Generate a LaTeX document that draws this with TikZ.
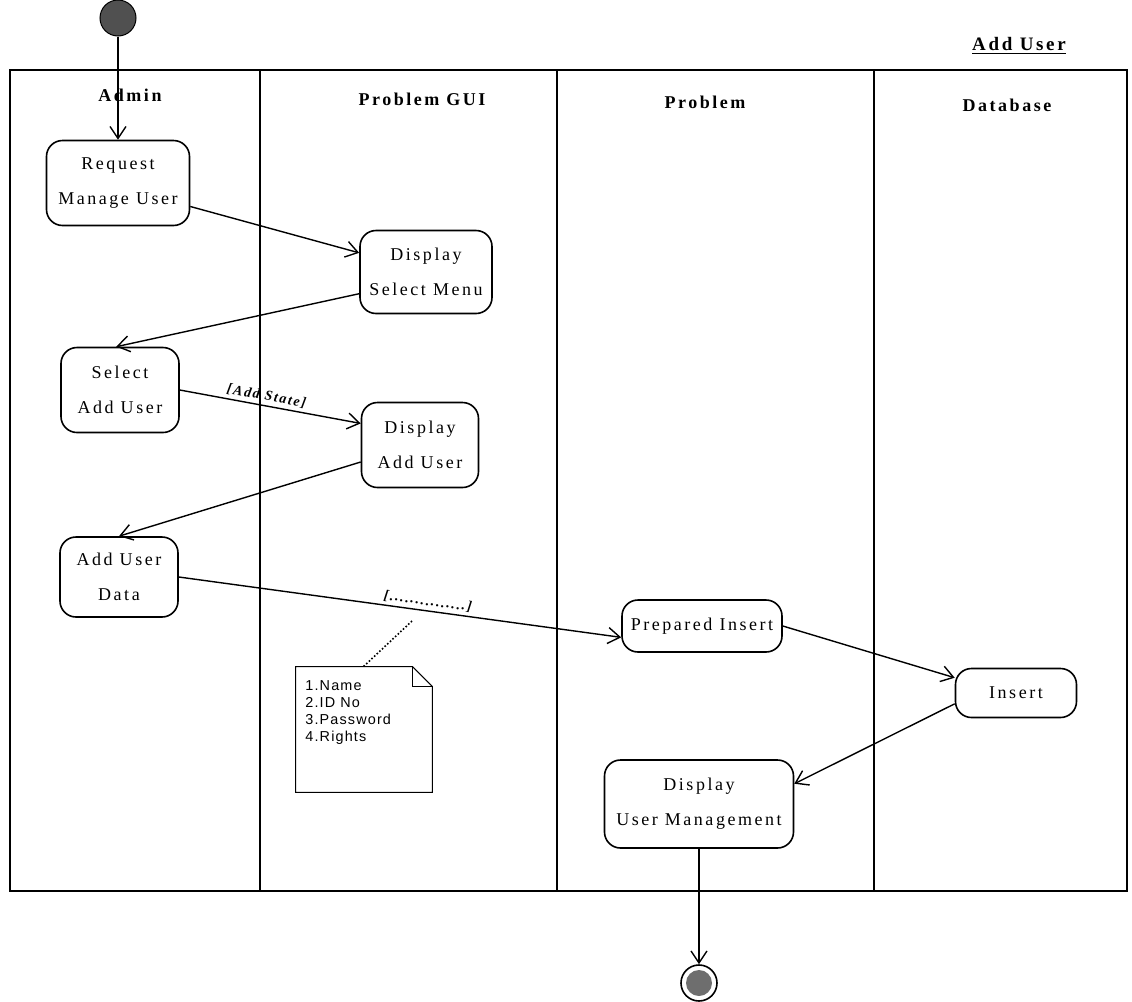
\documentclass[tikz,border=0pt]{standalone}
\usepackage{fontspec}
\usetikzlibrary{arrows.meta}
\setmainfont{Liberation Serif}
\newfontfamily\actfont[LetterSpace=14]{Liberation Serif}
\newfontfamily\lanefont[LetterSpace=14]{Liberation Serif}
\newfontfamily\guardfont[LetterSpace=12]{Liberation Serif}
\newfontfamily\notefont[LetterSpace=8]{Liberation Sans}

\begin{document}
\begin{tikzpicture}[x=0.5pt,y=-0.5pt,
  act/.style={draw, line width=0.8pt, rounded corners=8pt, align=center,
    inner sep=0pt, font=\actfont\fontsize{9}{17.5}\selectfont},
  flow/.style={line width=0.7pt, -{Straight Barb[length=6pt,width=8pt,line width=0.7pt]}},
  lane/.style={font=\lanefont\bfseries\fontsize{9}{11}\selectfont},
  guard/.style={font=\guardfont\bfseries\itshape\fontsize{7}{8}\selectfont, inner sep=1.5pt},
  frame/.style={line width=0.8pt},
  notebox/.style={line width=0.5pt}
]
\useasboundingbox (0,0) rectangle (1132,1002);

% swimlane frame and separators
\draw[frame] (10,70) rectangle (1127,891);
\draw[frame] (260,70) -- (260,891);
\draw[frame] (557,70) -- (557,891);
\draw[frame] (874,70) -- (874,891);

% diagram title
\node[lane, font=\lanefont\bfseries\fontsize{9.5}{11}\selectfont] (title) at (1019,46) {\underline{Add User}};

% lane headers
\node[lane] (hAdmin) at (130,95) {Admin};
\node[lane] (hGui) at (422,99) {Problem GUI};
\node[lane] (hProb) at (705,102) {Problem};
\node[lane] (hDb) at (1007,105) {Database};

% initial and final states
\node[circle, draw, line width=0.5pt, fill={rgb,255:red,80;green,80;blue,80},
  minimum size=18pt, inner sep=0pt] (start) at (118,18) {};
\node[circle, draw, line width=0.8pt, minimum size=18pt, inner sep=0pt] (finish) at (699,983) {};
\node[circle, fill={rgb,255:red,110;green,110;blue,110}, minimum size=13pt, inner sep=0pt] (finishdot) at (finish) {};

% activities
\node[act, minimum width=71.5pt, minimum height=42.5pt] (req) at (118,183) {Request\\Manage User};
\node[act, minimum width=66pt, minimum height=41.5pt] (dsm) at (426,272) {Display\\Select Menu};
\node[act, minimum width=59pt, minimum height=42.5pt] (sel) at (120,390) {Select\\Add User};
\node[act, minimum width=58.5pt, minimum height=42.5pt] (dau) at (420,445) {Display\\Add User};
\node[act, minimum width=59pt, minimum height=40pt] (aud) at (119,577) {Add User\\Data};
\node[act, minimum width=80pt, minimum height=26pt] (pins) at (702,626) {Prepared Insert};
\node[act, minimum width=60.5pt, minimum height=24.5pt] (ins) at (1016,693) {Insert};
\node[act, minimum width=94.5pt, minimum height=44pt] (dum) at (699,804) {Display\\User Management};

% control flow
\draw[flow] (start) -- (req.north);
\draw[flow] (req.-18) -- (dsm.164);
\draw[flow] (dsm.198) -- (sel.95);
\draw[flow] (sel.east) -- node[guard, pos=0.47, sloped, above] (g1) {[Add State]} (dau.160);
\draw[flow] (dau.196) -- (aud.north);
\draw[flow] (aud.east) -- node[guard, pos=0.56, sloped, above] (g2) {[...............]} (pins.188);
\draw[flow] (pins.east) -- (ins.166);
\draw[flow] (ins.190) -- (dum.12);
\draw[flow] (dum.south) -- (finish.north);

% note with folded corner, attached to the data flow
\node[minimum width=68pt, minimum height=62.5pt, inner sep=0pt] (note) at (364,729.5) {};
\draw[notebox] (note.north west) -- ([xshift=-10pt]note.north east)
  -- ([yshift=-10pt]note.north east) -- (note.south east) -- (note.south west) -- cycle;
\draw[notebox] ([xshift=-10pt]note.north east) -- ([xshift=-10pt,yshift=-10pt]note.north east)
  -- ([yshift=-10pt]note.north east);
\node[anchor=north west, align=left, inner sep=0pt,
  font=\notefont\fontsize{7.2}{8.5}\selectfont] (notetext) at (305,680)
  {1.Name\\2.ID No\\3.Password\\4.Rights};
\coordinate (notetip) at (412,621);
\draw[line width=0.8pt, densely dotted] (notetip) -- (363,667);
\end{tikzpicture}
\end{document}
